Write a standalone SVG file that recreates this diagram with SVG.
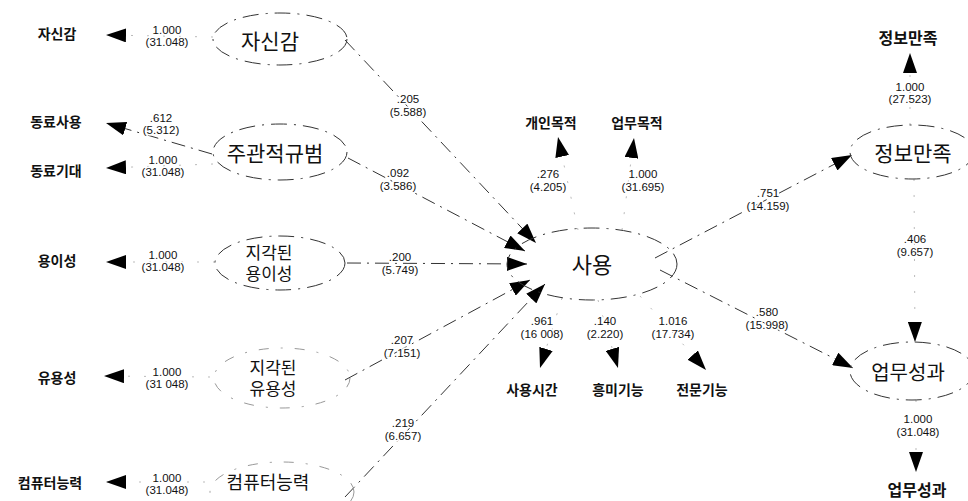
<svg xmlns="http://www.w3.org/2000/svg" width="968" height="501" viewBox="0 0 968 501">
<style>
.bg{fill:#fff}
.ell{fill:none;stroke:#333;stroke-width:1;stroke-dasharray:16 7 2 7}
.ell2{fill:none;stroke:#999;stroke-width:1;stroke-dasharray:10 12 2 12}
.path{fill:none;stroke:#333;stroke-width:1;stroke-dasharray:14 6 2 6}
.faint{fill:none;stroke:#bbb;stroke-width:1;stroke-dasharray:2 14}
.lat{font-family:"Noto Sans CJK KR","Liberation Sans",sans-serif;fill:#111;text-anchor:middle;dominant-baseline:central}
.lat2{font-family:"Liberation Sans","Noto Sans CJK KR",sans-serif;font-size:17px;fill:#111;text-anchor:middle}
.obs{font-family:"Noto Sans CJK KR","Liberation Sans",sans-serif;font-size:14px;font-weight:bold;fill:#111;text-anchor:middle;dominant-baseline:central}
.num{font-family:"Liberation Sans",Arial,sans-serif;font-size:11.5px;fill:#111;text-anchor:middle;stroke:#fff;stroke-width:3px;paint-order:stroke;stroke-linejoin:round}
</style>
<defs>
<marker id="ah" markerUnits="userSpaceOnUse" markerWidth="20" markerHeight="14" refX="20" refY="7" orient="auto">
<path d="M0,0 L20,7 L0,14 z" fill="#000"/>
</marker>
</defs>
<rect class="bg" x="0" y="0" width="968" height="501"/>

<g id="connectors">
<path class="faint" d="M213,37 L106,35" marker-end="url(#ah)"/>
<path class="path" d="M212,154 L106,123" marker-end="url(#ah)"/>
<path class="faint" d="M213,164 L106,168" marker-end="url(#ah)"/>
<path class="faint" d="M215,262 L106,262" marker-end="url(#ah)"/>
<path class="faint" d="M210,377 L104,376" marker-end="url(#ah)"/>
<path class="faint" d="M205,482 L106,482" marker-end="url(#ah)"/>
<path class="path" d="M345,40 L536,243" marker-end="url(#ah)"/>
<path class="path" d="M348,158 L525,251" marker-end="url(#ah)"/>
<path class="path" d="M347,263 L527,264" marker-end="url(#ah)"/>
<path class="path" d="M345,380 L530,280" marker-end="url(#ah)"/>
<path class="path" d="M345,497 L545,284" marker-end="url(#ah)"/>
<path class="faint" d="M578,230 L558,137" marker-end="url(#ah)"/>
<path class="faint" d="M622,230 L634,138" marker-end="url(#ah)"/>
<path class="faint" d="M562,298 L540,368" marker-end="url(#ah)"/>
<path class="faint" d="M598,300 L618,368" marker-end="url(#ah)"/>
<path class="faint" d="M640,296 L706,370" marker-end="url(#ah)"/>
<path class="path" d="M655,258 L852,155" marker-end="url(#ah)"/>
<path class="path" d="M660,270 L853,368" marker-end="url(#ah)"/>
<path class="faint" d="M910,125 L910,53" marker-end="url(#ah)"/>
<path class="faint" d="M914,179 L915,342" marker-end="url(#ah)"/>
<path class="faint" d="M916,400 L916,472" marker-end="url(#ah)"/>
</g>

<g id="labels">
<text class="num" x="167" y="34">1.000<tspan x="167" y="46">(31.048)</tspan></text>
<text class="num" x="161" y="122">.612<tspan x="161" y="134">(5.312)</tspan></text>
<text class="num" x="163" y="164">1.000<tspan x="163" y="176">(31.048)</tspan></text>
<text class="num" x="163" y="259">1.000<tspan x="163" y="271">(31.048)</tspan></text>
<text class="num" x="167" y="376">1.000<tspan x="167" y="388">(31 048)</tspan></text>
<text class="num" x="167" y="482">1.000<tspan x="167" y="494">(31.048)</tspan></text>
<text class="num" x="408" y="103">.205<tspan x="408" y="116">(5.588)</tspan></text>
<text class="num" x="398" y="177">.092<tspan x="398" y="190">(3.586)</tspan></text>
<text class="num" x="400" y="261">.200<tspan x="400" y="274">(5.749)</tspan></text>
<text class="num" x="402" y="344">.207<tspan x="402" y="357">(7.151)</tspan></text>
<text class="num" x="403" y="427">.219<tspan x="403" y="440">(6.657)</tspan></text>
<text class="num" x="548" y="178">.276<tspan x="548" y="191">(4.205)</tspan></text>
<text class="num" x="643" y="178">1.000<tspan x="643" y="191">(31.695)</tspan></text>
<text class="num" x="542" y="325">.961<tspan x="542" y="338">(16 008)</tspan></text>
<text class="num" x="605" y="325">.140<tspan x="605" y="338">(2.220)</tspan></text>
<text class="num" x="673" y="325">1.016<tspan x="673" y="338">(17.734)</tspan></text>
<text class="num" x="768" y="197">.751<tspan x="768" y="210">(14.159)</tspan></text>
<text class="num" x="910" y="91">1.000<tspan x="910" y="103">(27.523)</tspan></text>
<text class="num" x="915" y="243">.406<tspan x="915" y="256">(9.657)</tspan></text>
<text class="num" x="767" y="316">.580<tspan x="767" y="329">(15.998)</tspan></text>
<text class="num" x="918" y="423">1.000<tspan x="918" y="436">(31.048)</tspan></text>
</g>

<g id="n-jasin-obs"><text class="obs" x="57" y="33">자신감</text></g>
<g id="n-dongryo-sa"><text class="obs" x="56" y="121">동료사용</text></g>
<g id="n-dongryo-gi"><text class="obs" x="56" y="170">동료기대</text></g>
<g id="n-yongi-obs"><text class="obs" x="57" y="260">용이성</text></g>
<g id="n-yuyong-obs"><text class="obs" x="57" y="377">유용성</text></g>
<g id="n-com-obs"><text class="obs" x="50" y="482">컴퓨터능력</text></g>

<g id="n-jasin"><ellipse class="ell" cx="280" cy="39" rx="67" ry="26"/><text class="lat" x="270" y="40" font-size="21">자신감</text></g>
<g id="n-norm"><ellipse class="ell" cx="280" cy="152" rx="67" ry="28"/><text class="lat" x="275" y="152" font-size="21">주관적규범</text></g>
<g id="n-ease"><ellipse class="ell" cx="280" cy="263" rx="65" ry="27"/><text class="lat2" x="269" y="259">지각된</text><text class="lat2" x="269" y="280">용이성</text></g>
<g id="n-useful"><ellipse class="ell2" cx="282" cy="378" rx="68" ry="30"/><text class="lat2" x="273" y="374">지각된</text><text class="lat2" x="273" y="395">유용성</text></g>
<g id="n-com"><ellipse class="ell2" cx="282" cy="492" rx="72" ry="30"/><text class="lat" x="268" y="481" font-size="18">컴퓨터능력</text></g>

<g id="n-use"><ellipse class="ell" cx="592" cy="264" rx="85" ry="36"/><text class="lat" x="592" y="263" font-size="22">사용</text></g>
<g id="n-personal"><text class="obs" x="551" y="122">개인목적</text></g>
<g id="n-work"><text class="obs" x="637" y="122">업무목적</text></g>
<g id="n-time"><text class="obs" x="532" y="389">사용시간</text></g>
<g id="n-fun"><text class="obs" x="618" y="389">흥미기능</text></g>
<g id="n-pro"><text class="obs" x="702" y="389">전문기능</text></g>

<g id="n-info-obs"><text class="obs" x="908" y="37" style="font-size:16px">정보만족</text></g>
<g id="n-info"><ellipse class="ell" cx="912" cy="152" rx="62" ry="27"/><text class="lat" x="913" y="152" font-size="21">정보만족</text></g>
<g id="n-perf"><ellipse class="ell" cx="912" cy="371" rx="62" ry="29"/><text class="lat" x="908" y="371" font-size="20">업무성과</text></g>
<g id="n-perf-obs"><text class="obs" x="917" y="489" style="font-size:16px">업무성과</text></g>
</svg>
